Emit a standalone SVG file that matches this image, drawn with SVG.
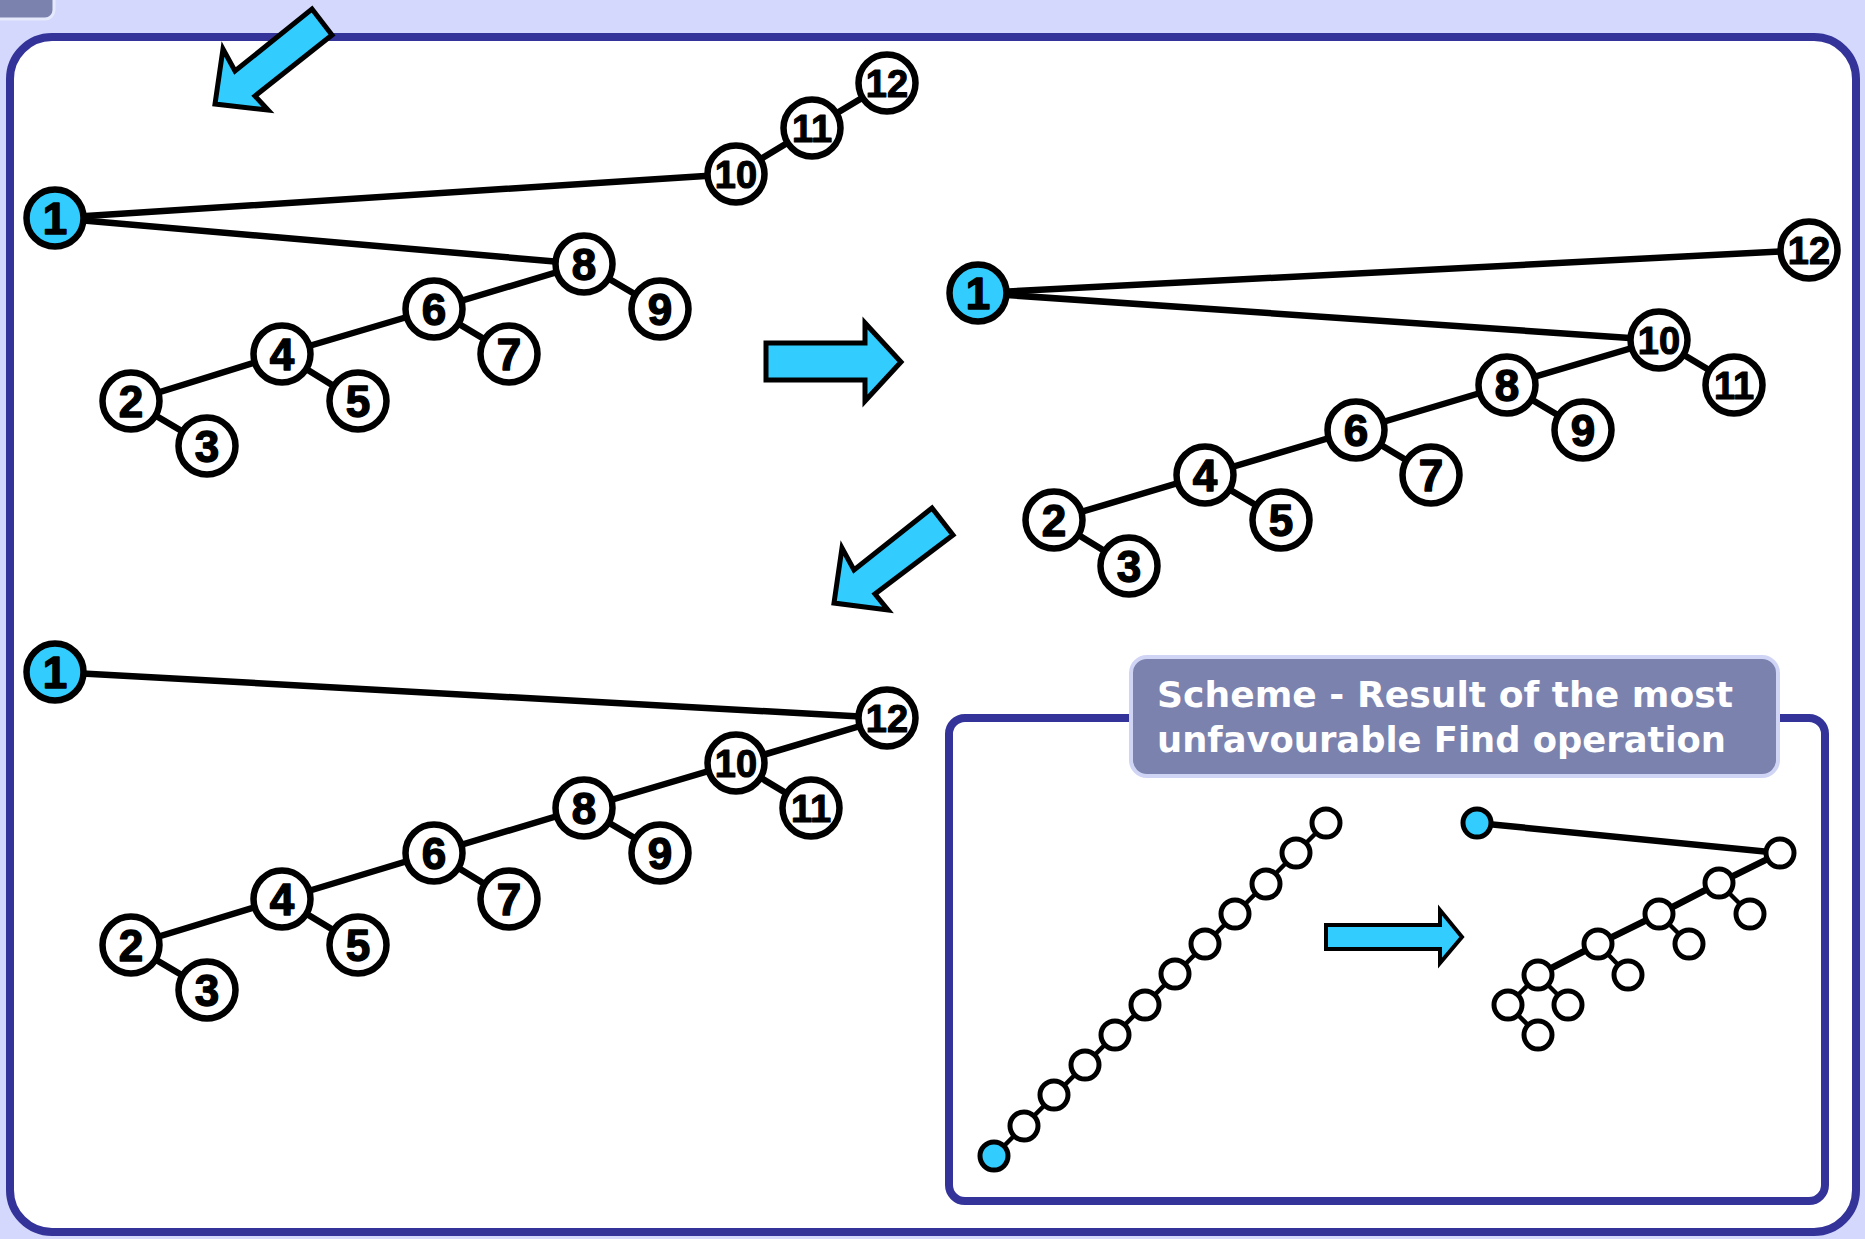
<svg xmlns="http://www.w3.org/2000/svg" width="1865" height="1239" viewBox="0 0 1865 1239">
<style>
.bg{fill:#D3D8FC}
.frame{fill:#FFFFFF;stroke:#333399;stroke-width:8}
.iframe{fill:none;stroke:#333399;stroke-width:8}
.tab{fill:#7B82AE;stroke:#E6E9FB;stroke-width:3}
.label{fill:#7B82AE;stroke:#D0D5F5;stroke-width:4}
.lt{font-family:"DejaVu Sans",Verdana,sans-serif;font-weight:bold;font-size:36px;fill:#FFFFFF}
.arr{fill:#33CCFF;stroke:#000000;stroke-width:5;stroke-linejoin:miter}
.arrs{fill:#33CCFF;stroke:#000000;stroke-width:4;stroke-linejoin:miter}
.e line{stroke:#000000;stroke-width:6.5;stroke-linecap:round}
.es line{stroke:#000000;stroke-width:4.5}
.n circle{fill:#FFFFFF;stroke:#000000;stroke-width:6.5}
.n circle.r{fill:#33CCFF}
.n text{fill:#000000;stroke:#000000;stroke-width:1.4;stroke-linejoin:round;text-anchor:middle}
.n text.d{font-size:38px;stroke-width:1.1}
.s circle{fill:#FFFFFF;stroke:#000000;stroke-width:5}
.s circle.r{fill:#33CCFF}
</style>
<rect class="bg" x="0" y="0" width="1865" height="1239"/>
<rect class="tab" x="-12" y="-20" width="66" height="39" rx="9"/>
<rect class="frame" x="10" y="37" width="1846" height="1195" rx="42"/>
<rect class="iframe" x="949" y="718" width="876" height="483" rx="16"/>
<g id="label">
<rect class="label" x="1131" y="657" width="647" height="119" rx="16"/>
<text class="lt" x="1157" y="707" textLength="576" lengthAdjust="spacingAndGlyphs">Scheme - Result of the most</text>
<text class="lt" x="1157" y="752" textLength="569" lengthAdjust="spacingAndGlyphs">unfavourable Find operation</text>
</g>
<g id="arrows">
<polygon class="arr" points="215,104 223,49 235,71 312,9 332,35 255,96 268,110"/>
<polygon class="arr" points="766,343 865,343 865,323 901,362 865,401 865,380 766,380"/>
<polygon class="arr" points="834,603 842,548 854,570 932,508 953,535 875,594 888,610"/>
<polygon class="arrs" points="1326,925 1440,925 1440,910 1462,937 1440,963 1440,949 1326,949"/>
</g>
<g id="connectors">
<g class="e">
<line x1="55" y1="218" x2="736" y2="174"/>
<line x1="55" y1="218" x2="584" y2="264"/>
<line x1="736" y1="174" x2="812" y2="128"/>
<line x1="812" y1="128" x2="887" y2="83"/>
<line x1="584" y1="264" x2="660" y2="309"/>
<line x1="584" y1="264" x2="434" y2="309"/>
<line x1="434" y1="309" x2="509" y2="354"/>
<line x1="434" y1="309" x2="282" y2="354"/>
<line x1="282" y1="354" x2="358" y2="401"/>
<line x1="282" y1="354" x2="131" y2="401"/>
<line x1="131" y1="401" x2="207" y2="446"/>

<line x1="978" y1="293" x2="1809" y2="250"/>
<line x1="978" y1="293" x2="1659" y2="340"/>
<line x1="1659" y1="340" x2="1734" y2="385"/>
<line x1="1659" y1="340" x2="1507" y2="385"/>
<line x1="1507" y1="385" x2="1583" y2="430"/>
<line x1="1507" y1="385" x2="1356" y2="430"/>
<line x1="1356" y1="430" x2="1431" y2="475"/>
<line x1="1356" y1="430" x2="1205" y2="475"/>
<line x1="1205" y1="475" x2="1281" y2="520"/>
<line x1="1205" y1="475" x2="1054" y2="520"/>
<line x1="1054" y1="520" x2="1129" y2="566"/>

<line x1="55" y1="672" x2="887" y2="718"/>
<line x1="887" y1="718" x2="736" y2="763"/>
<line x1="736" y1="763" x2="811" y2="808"/>
<line x1="736" y1="763" x2="584" y2="808"/>
<line x1="584" y1="808" x2="660" y2="853"/>
<line x1="584" y1="808" x2="434" y2="853"/>
<line x1="434" y1="853" x2="509" y2="899"/>
<line x1="434" y1="853" x2="282" y2="899"/>
<line x1="282" y1="899" x2="358" y2="945"/>
<line x1="282" y1="899" x2="131" y2="945"/>
<line x1="131" y1="945" x2="207" y2="990"/>

<line x1="1477" y1="823" x2="1780" y2="853"/>
<line x1="1780" y1="853" x2="1719" y2="883"/>
<line x1="1719" y1="883" x2="1659" y2="914"/>
<line x1="1659" y1="914" x2="1598" y2="944"/>
<line x1="1598" y1="944" x2="1538" y2="975"/>
</g>
<g class="es">
<line x1="994" y1="1156" x2="1326" y2="823"/>
<line x1="1719" y1="883" x2="1750" y2="914"/>
<line x1="1659" y1="914" x2="1689" y2="944"/>
<line x1="1598" y1="944" x2="1628" y2="975"/>
<line x1="1538" y1="975" x2="1508" y2="1005"/>
<line x1="1538" y1="975" x2="1568" y2="1005"/>
<line x1="1508" y1="1005" x2="1538" y2="1035"/>
</g>
</g>
<g id="tree-a" class="n" font-family="Liberation Sans, Arial, Helvetica, sans-serif" font-weight="700" font-size="44">
<g id="a1"><circle class="r" cx="55" cy="218" r="28.5"/><text x="55" y="234">1</text></g>
<g id="a10"><circle cx="736" cy="174" r="28.5"/><text class="d" x="736" y="188">10</text></g>
<g id="a11"><circle cx="812" cy="128" r="28.5"/><text class="d" x="812" y="142">11</text></g>
<g id="a12"><circle cx="887" cy="83" r="28.5"/><text class="d" x="887" y="97">12</text></g>
<g id="a8"><circle cx="584" cy="264" r="28.5"/><text x="584" y="280">8</text></g>
<g id="a9"><circle cx="660" cy="309" r="28.5"/><text x="660" y="325">9</text></g>
<g id="a6"><circle cx="434" cy="309" r="28.5"/><text x="434" y="325">6</text></g>
<g id="a7"><circle cx="509" cy="354" r="28.5"/><text x="509" y="370">7</text></g>
<g id="a4"><circle cx="282" cy="354" r="28.5"/><text x="282" y="370">4</text></g>
<g id="a5"><circle cx="358" cy="401" r="28.5"/><text x="358" y="417">5</text></g>
<g id="a2"><circle cx="131" cy="401" r="28.5"/><text x="131" y="417">2</text></g>
<g id="a3"><circle cx="207" cy="446" r="28.5"/><text x="207" y="462">3</text></g>
</g>
<g id="tree-b" class="n" font-family="Liberation Sans, Arial, Helvetica, sans-serif" font-weight="700" font-size="44">
<g id="b1"><circle class="r" cx="978" cy="293" r="28.5"/><text x="978" y="309">1</text></g>
<g id="b12"><circle cx="1809" cy="250" r="28.5"/><text class="d" x="1809" y="264">12</text></g>
<g id="b10"><circle cx="1659" cy="340" r="28.5"/><text class="d" x="1659" y="354">10</text></g>
<g id="b11"><circle cx="1734" cy="385" r="28.5"/><text class="d" x="1734" y="399">11</text></g>
<g id="b8"><circle cx="1507" cy="385" r="28.5"/><text x="1507" y="401">8</text></g>
<g id="b9"><circle cx="1583" cy="430" r="28.5"/><text x="1583" y="446">9</text></g>
<g id="b6"><circle cx="1356" cy="430" r="28.5"/><text x="1356" y="446">6</text></g>
<g id="b7"><circle cx="1431" cy="475" r="28.5"/><text x="1431" y="491">7</text></g>
<g id="b4"><circle cx="1205" cy="475" r="28.5"/><text x="1205" y="491">4</text></g>
<g id="b5"><circle cx="1281" cy="520" r="28.5"/><text x="1281" y="536">5</text></g>
<g id="b2"><circle cx="1054" cy="520" r="28.5"/><text x="1054" y="536">2</text></g>
<g id="b3"><circle cx="1129" cy="566" r="28.5"/><text x="1129" y="582">3</text></g>
</g>
<g id="tree-c" class="n" font-family="Liberation Sans, Arial, Helvetica, sans-serif" font-weight="700" font-size="44">
<g id="c1"><circle class="r" cx="55" cy="672" r="28.5"/><text x="55" y="688">1</text></g>
<g id="c12"><circle cx="887" cy="718" r="28.5"/><text class="d" x="887" y="732">12</text></g>
<g id="c10"><circle cx="736" cy="763" r="28.5"/><text class="d" x="736" y="777">10</text></g>
<g id="c11"><circle cx="811" cy="808" r="28.5"/><text class="d" x="811" y="822">11</text></g>
<g id="c8"><circle cx="584" cy="808" r="28.5"/><text x="584" y="824">8</text></g>
<g id="c9"><circle cx="660" cy="853" r="28.5"/><text x="660" y="869">9</text></g>
<g id="c6"><circle cx="434" cy="853" r="28.5"/><text x="434" y="869">6</text></g>
<g id="c7"><circle cx="509" cy="899" r="28.5"/><text x="509" y="915">7</text></g>
<g id="c4"><circle cx="282" cy="899" r="28.5"/><text x="282" y="915">4</text></g>
<g id="c5"><circle cx="358" cy="945" r="28.5"/><text x="358" y="961">5</text></g>
<g id="c2"><circle cx="131" cy="945" r="28.5"/><text x="131" y="961">2</text></g>
<g id="c3"><circle cx="207" cy="990" r="28.5"/><text x="207" y="1006">3</text></g>
</g>
<g id="chain-d" class="s">
<g id="d0"><circle class="r" cx="994" cy="1156" r="14"/></g>
<g id="d1"><circle cx="1024" cy="1126" r="14"/></g>
<g id="d2"><circle cx="1054" cy="1095" r="14"/></g>
<g id="d3"><circle cx="1085" cy="1065" r="14"/></g>
<g id="d4"><circle cx="1115" cy="1035" r="14"/></g>
<g id="d5"><circle cx="1145" cy="1005" r="14"/></g>
<g id="d6"><circle cx="1175" cy="974" r="14"/></g>
<g id="d7"><circle cx="1205" cy="944" r="14"/></g>
<g id="d8"><circle cx="1235" cy="914" r="14"/></g>
<g id="d9"><circle cx="1266" cy="884" r="14"/></g>
<g id="d10"><circle cx="1296" cy="853" r="14"/></g>
<g id="d11"><circle cx="1326" cy="823" r="14"/></g>
</g>
<g id="tree-e" class="s">
<g id="e0"><circle class="r" cx="1477" cy="823" r="14"/></g>
<g id="e1"><circle cx="1780" cy="853" r="14"/></g>
<g id="e2"><circle cx="1719" cy="883" r="14"/></g>
<g id="e2c"><circle cx="1750" cy="914" r="14"/></g>
<g id="e3"><circle cx="1659" cy="914" r="14"/></g>
<g id="e3c"><circle cx="1689" cy="944" r="14"/></g>
<g id="e4"><circle cx="1598" cy="944" r="14"/></g>
<g id="e4c"><circle cx="1628" cy="975" r="14"/></g>
<g id="e5"><circle cx="1538" cy="975" r="14"/></g>
<g id="e5l"><circle cx="1508" cy="1005" r="14"/></g>
<g id="e5r"><circle cx="1568" cy="1005" r="14"/></g>
<g id="e5b"><circle cx="1538" cy="1035" r="14"/></g>
</g>
</svg>
